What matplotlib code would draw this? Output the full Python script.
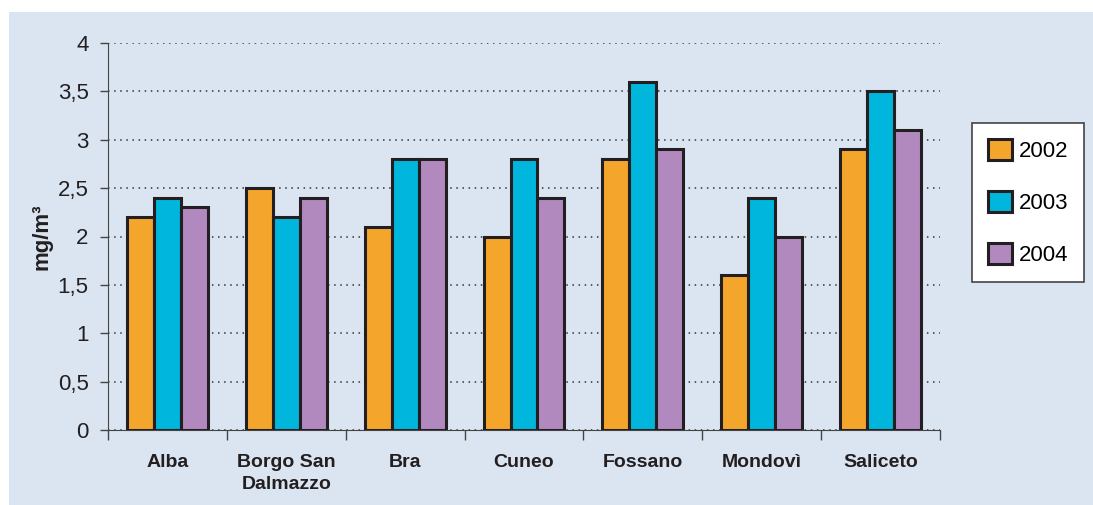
import matplotlib.pyplot as plt
import numpy as np
from matplotlib.patches import Rectangle

towns = ['Alba', 'Borgo San\nDalmazzo', 'Bra', 'Cuneo', 'Fossano', 'Mondovì', 'Saliceto']
years = ['2002', '2003', '2004']
v2002 = [2.2, 2.5, 2.1, 2.0, 2.8, 1.6, 2.9]
v2003 = [2.4, 2.2, 2.8, 2.8, 3.6, 2.4, 3.5]
v2004 = [2.3, 2.4, 2.8, 2.4, 2.9, 2.0, 3.1]
yticks = [0, 0.5, 1, 1.5, 2, 2.5, 3, 3.5, 4]
ylabels = ['0', '0,5', '1', '1,5', '2', '2,5', '3', '3,5', '4']

colors = ['#f4a52c', '#00b6dc', '#b189be']
bg = '#dbe5f2'

plt.rcParams['font.family'] = ['Liberation Sans Narrow', 'Liberation Sans', 'DejaVu Sans']

fig = plt.figure(figsize=(10.93, 5.05), dpi=100, facecolor='white')
# light blue panel behind everything, leaving a thin white margin top/left
fig.patches.append(Rectangle((9 / 1093, 0), 1, 1 - 12 / 505, transform=fig.transFigure,
                             facecolor=bg, edgecolor='none', zorder=-10))

ax = fig.add_axes([108 / 1093, 1 - 430 / 505, 832 / 1093, 387 / 505])
ax.set_zorder(2)
ax.set_facecolor(bg)

x = np.arange(len(towns))
w = 0.227
for i, (vals, c, lab) in enumerate(zip([v2002, v2003, v2004], colors, years)):
    ax.bar(x + (i - 1) * w, vals, width=w, color=c, edgecolor='#231f20',
           linewidth=2.2, label=lab, zorder=3)

ax.set_xlim(-0.5, len(towns) - 0.5)
ax.set_ylim(0, 4)
ax.set_yticks(yticks)
ax.set_yticklabels(ylabels, fontsize=16, color='#231f20')
ax.yaxis.grid(True, linestyle=(0, (1, 3)), color='#333333', linewidth=1.1, zorder=1)

ax.set_xticks(x)
ax.set_xticklabels(towns, fontsize=14, fontweight='bold', color='#231f20', linespacing=1.45)
ax.set_xticks(np.arange(-0.5, len(towns)), minor=True)
ax.tick_params(axis='x', which='major', length=0, pad=17)
ax.tick_params(axis='x', which='minor', length=7, width=1, color='#444444', direction='out')
ax.tick_params(axis='y', length=6, width=1, color='#444444', pad=8)

for s in ['top', 'right']:
    ax.spines[s].set_visible(False)
ax.spines['left'].set_color('#444444')
ax.spines['bottom'].set_color('#444444')

ax.set_ylabel('mg/m³', fontsize=16, fontweight='bold', color='#231f20', labelpad=4)

leg = fig.legend(loc='upper left', bbox_to_anchor=(972 / 1093, 1 - 123 / 505),
                 fontsize=16, frameon=True, fancybox=False, edgecolor='#444444',
                 framealpha=1, facecolor='white',
                 handlelength=1.1, handleheight=1.1, handletextpad=0.3,
                 labelspacing=1.3, borderpad=0.7, borderaxespad=0)
leg.get_frame().set_linewidth(1.2)
leg.set_zorder(5)

fig.savefig('out.png', dpi=100, facecolor=fig.get_facecolor())
